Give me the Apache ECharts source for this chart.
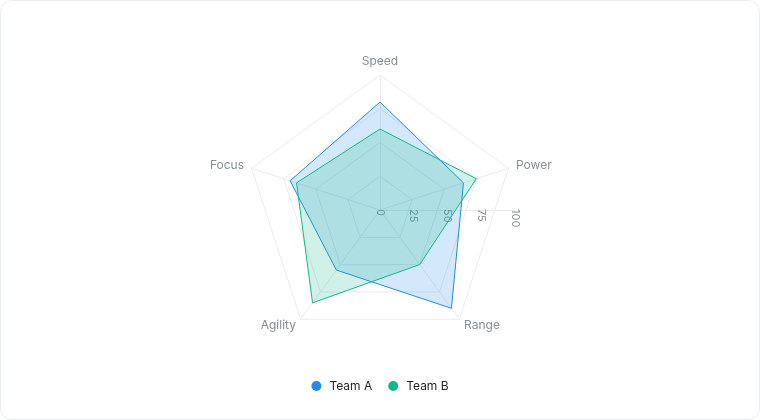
<!DOCTYPE html>
<html>
<head>
<meta charset="utf-8">
<title>Radar</title>
<script src="https://cdn.jsdelivr.net/npm/echarts@6/dist/echarts.min.js"></script>
<style>
  html, body { margin: 0; padding: 0; background: #ffffff; }
  #main {
    width: 760px; height: 420px;
    box-sizing: border-box;
    border: 1px solid #e9ecef;
    border-radius: 12px;
    background: #ffffff;
  }
</style>
</head>
<body>
<div id="main"></div>
<script>
  // indicators, listed counter-clockwise from the top as echarts lays them out
  var indicators = ['Speed', 'Focus', 'Agility', 'Range', 'Power'];
  var teamA = [80, 70, 55, 90, 65];
  var teamB = [60, 65, 85, 50, 75];
  var seriesNames = ['Team A', 'Team B'];
  var colors = ['#228be6', '#12b886'];
  var maxValue = 100;

  var font = 'Inter, "Noto Sans", sans-serif';
  var chart = echarts.init(document.getElementById('main'));

  var option = {
    color: colors,
    textStyle: { fontFamily: font },
    legend: {
      bottom: 22,
      icon: 'circle',
      itemWidth: 10,
      itemHeight: 10,
      itemGap: 16,
      textStyle: { color: '#212529', fontSize: 12, fontFamily: font, padding: [0, 0, 0, 3] },
      data: seriesNames
    },
    radar: {
      center: ['50%', '50%'],
      radius: 135,
      splitNumber: 4,
      axisName: { color: '#868e96', fontSize: 12, fontFamily: font },
      nameGap: 8,
      axisLine: { lineStyle: { color: '#e9ecef' } },
      splitLine: { lineStyle: { color: '#e9ecef' } },
      splitArea: { show: false },
      indicator: indicators.map(function (n) { return { name: n, max: maxValue }; })
    },
    // polar only carries the 0..100 scale labels along the horizontal
    polar: { center: ['50%', '50%'], radius: 135 },
    angleAxis: { startAngle: 0, show: false, min: 0, max: 360 },
    radiusAxis: {
      min: 0, max: maxValue, interval: 25,
      axisLine: { show: true, lineStyle: { color: '#e9ecef' } },
      axisTick: { show: false },
      splitLine: { show: false },
      axisLabel: {
        inside: true, rotate: -90, align: 'left', verticalAlign: 'middle', margin: 1,
        padding: [0, 0, 5, 0],
        color: '#868e96', fontSize: 11, fontFamily: font
      }
    },
    series: [{
      type: 'radar',
      symbol: 'none',
      data: [
        { name: seriesNames[0], value: teamA,
          lineStyle: { width: 1, color: colors[0] },
          areaStyle: { color: colors[0], opacity: 0.2 } },
        { name: seriesNames[1], value: teamB,
          lineStyle: { width: 1, color: colors[1] },
          areaStyle: { color: colors[1], opacity: 0.2 } }
      ]
    }]
  };

  chart.setOption(option);
</script>
</body>
</html>
